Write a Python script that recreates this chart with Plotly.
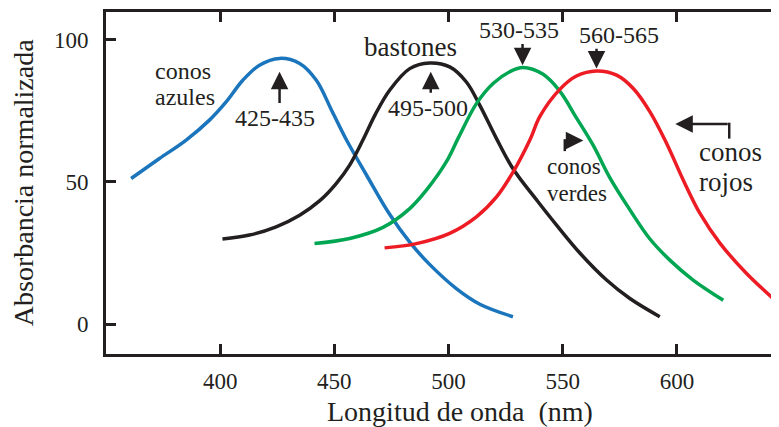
import plotly.graph_objects as go

# ---- data (wavelength nm, normalized absorbance) ----
blue_x = [361, 373.4, 385.1, 395.3, 402.6, 409.9, 417.2, 426, 434.8, 442.1, 449, 455.2, 464, 474.2, 483, 491.7, 503.4, 513.7, 528.2]
blue_y = [51.2, 58.2, 64.7, 71.7, 78.1, 85.7, 91.0, 93.4, 91.6, 85.7, 74.8, 64.9, 52.5, 38.6, 28.8, 21.0, 12.5, 7.0, 2.6]

black_x = [401, 412.8, 424.5, 434.8, 443.5, 450.8, 456.7, 462.5, 468, 474.2, 483, 491.7, 500.5, 507.8, 513.7, 521, 528.3, 539, 547.3, 557.5, 569.2, 579.4, 592.5]
black_y = [29.9, 31.3, 34.2, 38.3, 43.3, 49.4, 55.9, 64.7, 73.8, 82.2, 89.8, 91.8, 90.4, 85.1, 76.9, 65.2, 54.5, 43.2, 34.8, 25.0, 15.5, 9.0, 2.6]

green_x = [441.3, 456.7, 471.3, 483, 490.3, 499, 504.5, 512.2, 519.5, 526.8, 532.6, 541.4, 548.7, 556, 563.3, 570.6, 578.5, 588.1, 596.9, 607.1, 620.3]
green_y = [28.3, 30.1, 34.0, 40.6, 47.1, 57.0, 65.8, 77.5, 84.6, 88.7, 90.2, 87.8, 81.9, 72.5, 62.9, 51.5, 41.3, 30.0, 22.5, 15.5, 8.4]

red_x = [472, 485.9, 500.5, 512.2, 521, 528.3, 535.6, 540, 548.7, 556, 564.8, 573.6, 580.9, 588.2, 595.5, 602.8, 610.1, 618.9, 630.5, 643]
red_y = [26.8, 28.3, 31.9, 37.7, 44.7, 53.5, 64.7, 73.0, 82.5, 87.2, 89.0, 87.5, 82.8, 74.6, 63.5, 50.6, 38.9, 28.4, 17.8, 8.4]

x_ticks = [400, 450, 500, 550, 600]
y_ticks = [0, 50, 100]

peak_labels = ["425-435", "495-500", "530-535", "560-565"]
x_title = "Longitud de onda  (nm)"
y_title = "Absorbancia normalizada"

FONT = "Liberation Serif, Times New Roman, Times, serif"
INK = "#231f20"

fig = go.Figure()
for xs, ys, col in [(blue_x, blue_y, "#1a75bc"), (black_x, black_y, INK),
                    (green_x, green_y, "#00a651"), (red_x, red_y, "#ed1c24")]:
    fig.add_trace(go.Scatter(x=xs, y=ys, mode="lines",
                             line=dict(color=col, width=3.5, shape="spline", smoothing=1.0),
                             showlegend=False, hoverinfo="skip"))

ann = []
def text(x, y, s, size, xanchor="center"):
    ann.append(dict(x=x, y=y, text=s, showarrow=False, xref="x", yref="y",
                    xanchor=xanchor, yanchor="middle",
                    font=dict(family=FONT, size=size, color=INK)))

def arrow(x, y, ax, ay):
    ann.append(dict(x=x, y=y, ax=ax, ay=ay, xref="x", yref="y", axref="x", ayref="y",
                    text="", showarrow=True, arrowhead=2, arrowsize=1.4,
                    arrowwidth=2.5, arrowcolor=INK, standoff=0, startstandoff=0))

text(370.5, 89.0, "conos", 24, "left")
text(370.5, 79.7, "azules", 24, "left")
text(423.8, 72.3, peak_labels[0], 24)
arrow(426, 88.7, 426, 77.2)

text(483.3, 97.4, "bastones", 27)
text(491.0, 75.8, peak_labels[1], 24)
arrow(492.2, 88.7, 492.2, 80.8)

text(530.7, 103.3, peak_labels[2], 24)
arrow(532.4, 91.0, 532.4, 99.0)

text(574.7, 101.5, peak_labels[3], 24)
arrow(564.8, 89.8, 564.8, 97.3)

text(542.1, 55.3, "conos", 23, "left")
text(542.1, 45.9, "verdes", 23, "left")
arrow(559.0, 64.5, 550.9, 64.5)
fig.add_shape(type="line", x0=550.9, x1=550.9, y0=60.8, y1=65.0, xref="x", yref="y",
              line=dict(color=INK, width=2.5))

text(608.6, 60.5, "conos", 27, "left")
text(608.6, 50.0, "rojos", 27, "left")
arrow(599.3, 70.3, 622.9, 70.3)
fig.add_shape(type="line", x0=622.9, x1=622.9, y0=65.2, y1=70.8, xref="x", yref="y",
              line=dict(color=INK, width=2.5))

# axis titles
ann.append(dict(x=0.526, y=-0.167, xref="paper", yref="paper", text=x_title, showarrow=False,
                xanchor="center", yanchor="middle", font=dict(family=FONT, size=28, color=INK)))
ann.append(dict(x=-0.123, y=0.5, xref="paper", yref="paper", text=y_title, showarrow=False,
                textangle=-90, xanchor="center", yanchor="middle",
                font=dict(family=FONT, size=28, color=INK)))

# page body has an 8px default margin, so the figure is 8px smaller on each axis
fig.update_layout(
    width=771, height=419,
    margin=dict(l=98, r=0, t=4, b=73, autoexpand=False),
    paper_bgcolor="white", plot_bgcolor="white",
    font=dict(family=FONT, color=INK),
    annotations=ann,
    xaxis=dict(range=[350, 644.7], tickvals=x_ticks, ticks="inside", ticklen=10,
               tickwidth=2.5, tickcolor=INK, showline=True, linewidth=3, linecolor=INK,
               mirror="ticks", showgrid=False, zeroline=False, automargin=False,
               tickfont=dict(family=FONT, size=23, color=INK), ticklabelstandoff=4),
    yaxis=dict(range=[-10.5, 109.7], tickvals=y_ticks, ticks="inside", ticklen=10,
               tickwidth=2.5, tickcolor=INK, showline=True, linewidth=3, linecolor=INK,
               mirror=False, showgrid=False, zeroline=False, automargin=False,
               tickfont=dict(family=FONT, size=23, color=INK), ticklabelstandoff=10),
    yaxis2=dict(overlaying="y", side="right", matches="y", tickvals=y_ticks, ticks="inside",
                ticklen=3, tickwidth=2.5, tickcolor=INK, showline=False, showgrid=False,
                zeroline=False, showticklabels=False, automargin=False),
)
fig.add_trace(go.Scatter(x=[None], y=[None], yaxis="y2", showlegend=False, hoverinfo="skip"))

fig.write_html("out.html")
